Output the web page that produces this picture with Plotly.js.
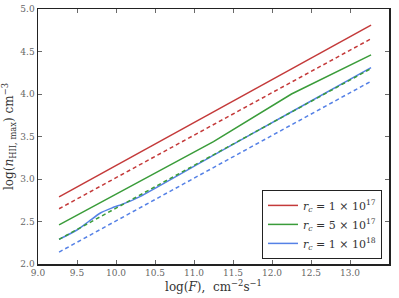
<!DOCTYPE html>
<html>
<head>
<meta charset="utf-8">
<script src="https://cdn.plot.ly/plotly-3.0.1.min.js"></script>
<style>html,body{margin:0;padding:0;background:#fff;}</style>
</head>
<body>
<div id="chart" style="width:399px;height:298px;"></div>
<script>
// log(F) grid
var xLin = [9.27, 13.27];
var redSolid = [2.79, 4.81];
var redDash = [2.65, 4.65];
var greenDash = [2.29, 4.30];
var blueDash = [2.14, 4.15];

var xGreen = [9.27, 10.18, 11.25, 12.25, 13.27];
var greenSolid = [2.46, 2.91, 3.44, 4.00, 4.46];

var xBlue = [9.27, 9.5, 9.65, 9.8, 9.95, 10.1, 10.3, 11.27, 12.27, 13.27];
var blueSolid = [2.29, 2.40, 2.50, 2.60, 2.66, 2.71, 2.79, 3.29, 3.80, 4.31];

var legendNames = [
  '<i>r</i><sub><i>c</i></sub> = 1 × 10<sup>17</sup>',
  '<i>r</i><sub><i>c</i></sub> = 5 × 10<sup>17</sup>',
  '<i>r</i><sub><i>c</i></sub> = 1 × 10<sup>18</sup>'
];

var RED = '#c43a3a', GREEN = '#3a9c3a', BLUE = '#5581e6';
var DASH = '4px,3px';

var traces = [
  {x: xLin, y: redSolid, mode: 'lines', line: {color: RED, width: 1.5}, name: legendNames[0]},
  {x: xGreen, y: greenSolid, mode: 'lines', line: {color: GREEN, width: 1.5}, name: legendNames[1]},
  {x: xBlue, y: blueSolid, mode: 'lines', line: {color: BLUE, width: 1.5, shape: 'spline', smoothing: 0.6}, name: legendNames[2]},
  {x: xLin, y: redDash, mode: 'lines', line: {color: RED, width: 1.5, dash: DASH}, showlegend: false},
  {x: xLin, y: greenDash, mode: 'lines', line: {color: GREEN, width: 1.5, dash: DASH}, showlegend: false},
  {x: xLin, y: blueDash, mode: 'lines', line: {color: BLUE, width: 1.5, dash: DASH}, showlegend: false}
];

var axisCommon = {
  showgrid: false, zeroline: false,
  showline: true, linecolor: '#222', linewidth: 1.5, mirror: 'ticks',
  ticks: 'inside', ticklen: 4, tickcolor: '#444', tickwidth: 0.8,
  tickfont: {family: 'DejaVu Serif, serif', size: 9, color: '#666'}
};

var layout = {
  width: 399, height: 298,
  margin: {l: 38, r: 10, t: 9, b: 34},
  paper_bgcolor: '#fff', plot_bgcolor: '#fff',
  font: {family: 'DejaVu Serif, serif', color: '#333'},
  xaxis: Object.assign({}, axisCommon, {
    range: [9.0, 13.5], dtick: 0.5, tick0: 9.0, tickformat: '.1f',
    title: {text: 'log(<i>F</i>),  cm<sup>−2</sup>s<sup>−1</sup>', font: {family: 'DejaVu Serif, serif', size: 12, color: '#333'}, standoff: 3}
  }),
  yaxis: Object.assign({}, axisCommon, {
    range: [2.0, 5.0], dtick: 0.5, tick0: 2.0, tickformat: '.1f',
    title: {text: 'log(<i>n</i><sub>HII, max</sub>) cm<sup>−3</sup>', font: {family: 'DejaVu Serif, serif', size: 12, color: '#333'}, standoff: 4}
  }),
  showlegend: true,
  legend: {
    x: 0.98, y: 0.02, xanchor: 'right', yanchor: 'bottom',
    bgcolor: '#fff', bordercolor: '#222', borderwidth: 1,
    font: {family: 'DejaVu Serif, serif', size: 11, color: '#333'},
    tracegroupgap: 0
  }
};

Plotly.newPlot('chart', traces, layout, {displayModeBar: false, staticPlot: true});
</script>
</body>
</html>
